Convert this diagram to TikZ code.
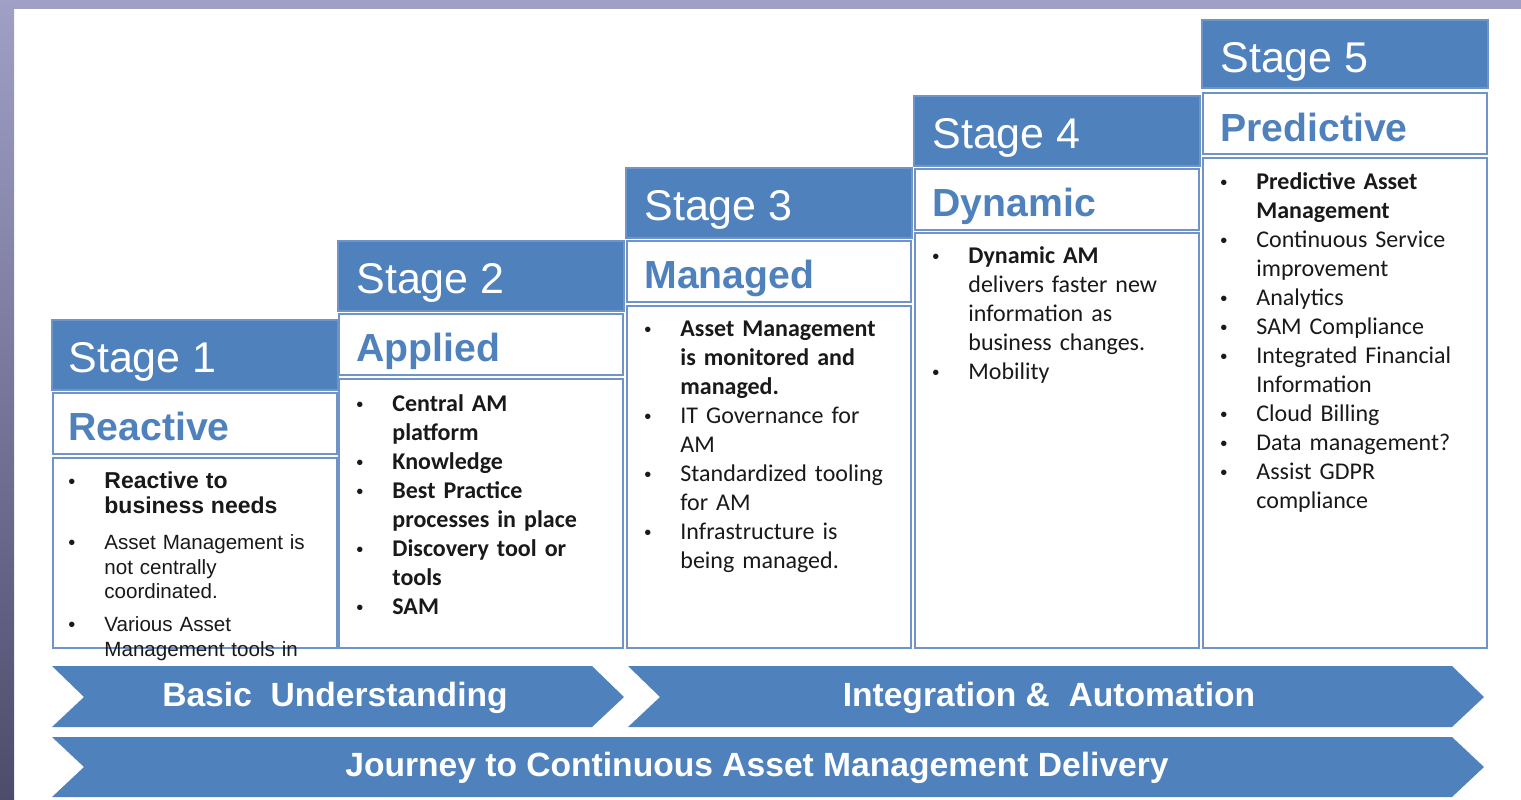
\documentclass[tikz,border=0pt]{standalone}
\usepackage{fontspec}
\setmainfont{Liberation Sans}
\newfontfamily\calfont{Carlito}
\definecolor{amblue}{RGB}{79,129,189}
\definecolor{amline}{RGB}{112,148,200}
\definecolor{amframe}{RGB}{160,159,198}
\definecolor{amframedark}{RGB}{78,76,108}
\definecolor{amtext}{RGB}{25,25,25}
\newcommand\amdot{{\rmfamily\mdseries\fontsize{10}{10}\selectfont\textbullet}}
\newcommand\amitem[1]{\par\hangindent=18pt\hangafter=1\noindent\makebox[18pt][l]{\vrule height 9pt width 0pt\amdot}#1}
\newcommand\amnl{\unskip\break}
\newcommand\amgap[1]{\par\vspace{#1}}

\begin{document}
\begin{tikzpicture}[x=0.5pt,y=0.5pt,yscale=-1,xscale=1,
  hdbox/.style={draw=amline,fill=amblue,line width=0.6pt},
  subbox/.style={draw=amline,fill=white,line width=0.75pt},
  hdtext/.style={anchor=base west,inner sep=0pt,text=white,font=\fontsize{21.5}{24}\selectfont},
  subtext/.style={anchor=base west,inner sep=0pt,text=amblue,font=\fontsize{19.6}{22}\selectfont\bfseries},
  bodytext/.style={anchor=north west,inner sep=0pt,text=amtext,text width=135pt,align=left,font=\fontsize{12}{14.5}\selectfont\calfont},
  chev/.style={fill=amblue},
  chevtext/.style={anchor=base,inner sep=0pt,text=white,font=\fontsize{16.8}{20}\selectfont\bfseries}]
\useasboundingbox (0,0) rectangle (1521,799);

%Shape: Frame
\fill[amframe] (0,0) rectangle (1521,9);
\shade[top color=amframe,bottom color=amframedark] (0,0) rectangle (14,799);

%Shape: Stage 1
\draw[hdbox] (52,320) rectangle (338,390);
\draw[subbox] (53,393) rectangle (337,454);
\draw[subbox] (53,458) rectangle (337,648);
%Shape: Stage 2
\draw[hdbox] (338,241) rectangle (624,311);
\draw[subbox] (339,314) rectangle (623,375);
\draw[subbox] (339,379) rectangle (623,648);
%Shape: Stage 3
\draw[hdbox] (626,168) rectangle (912,238);
\draw[subbox] (627,241) rectangle (911,302);
\draw[subbox] (627,306) rectangle (911,648);
%Shape: Stage 4
\draw[hdbox] (914,96) rectangle (1200,166);
\draw[subbox] (915,169) rectangle (1199,230);
\draw[subbox] (915,233) rectangle (1199,648);
%Shape: Stage 5
\draw[hdbox] (1202,20) rectangle (1488,88);
\draw[subbox] (1203,93) rectangle (1487,154);
\draw[subbox] (1203,158) rectangle (1487,648);

% Text Node
\draw (68,372) node (hd1) [hdtext] {Stage 1};
\draw (356,293) node (hd2) [hdtext] {Stage 2};
\draw (644,220) node (hd3) [hdtext] {Stage 3};
\draw (932,148) node (hd4) [hdtext] {Stage 4};
\draw (1220,72) node (hd5) [hdtext] {Stage 5};
% Text Node
\draw (68,440) node (sub1) [subtext] {Reactive};
\draw (356,361) node (sub2) [subtext] {Applied};
\draw (644,288) node (sub3) [subtext] {Managed};
\draw (932,216) node (sub4) [subtext] {Dynamic};
\draw (1220,141) node (sub5) [subtext] {Predictive};

% Text Node
\draw (68,464) node (body1) [bodytext,font=\fontsize{10.3}{12.25}\selectfont] {%
\amitem{{\bfseries\fontsize{11.5}{12.25}\selectfont Reactive to\amnl business needs}}\amgap{6pt}
\amitem{Asset Management is\amnl not centrally\amnl coordinated.}\amgap{4.25pt}
\amitem{Various Asset\amnl Management tools in}\par};
% Text Node
\draw (356,382) node (body2) [bodytext] {\bfseries
\amitem{Central AM\amnl platform}
\amitem{Knowledge}
\amitem{Best Practice\amnl processes in place}
\amitem{Discovery tool or\amnl tools}
\amitem{SAM}\par};
% Text Node
\draw (644,307) node (body3) [bodytext] {%
\amitem{{\bfseries Asset Management\amnl is monitored and\amnl managed.}}
\amitem{IT Governance for\amnl AM}
\amitem{Standardized tooling\amnl for AM}
\amitem{Infrastructure is\amnl being managed.}\par};
% Text Node
\draw (932,234) node (body4) [bodytext] {%
\amitem{{\bfseries Dynamic AM}\amnl delivers faster new\amnl information as\amnl business changes.}
\amitem{Mobility}\par};
% Text Node
\draw (1220,160) node (body5) [bodytext] {%
\amitem{{\bfseries Predictive Asset\amnl Management}}
\amitem{Continuous Service\amnl improvement}
\amitem{Analytics}
\amitem{SAM Compliance}
\amitem{Integrated Financial\amnl Information}
\amitem{Cloud Billing}
\amitem{Data management?}
\amitem{Assist GDPR\amnl compliance}\par};

%Shape: Chevron
\fill[chev] (52,666) -- (592,666) -- (624,697) -- (592,727) -- (52,727) -- (84,697) -- cycle;
\fill[chev] (628,666) -- (1452,666) -- (1484,697) -- (1452,727) -- (628,727) -- (660,697) -- cycle;
\fill[chev] (52,737) -- (1452,737) -- (1484,767) -- (1452,797) -- (52,797) -- (84,767) -- cycle;

% Text Node
\draw (335,706) node (basic) [chevtext] {Basic\ \ Understanding};
\draw (1049,706) node (integ) [chevtext] {Integration \&\ \ Automation};
\draw (757,776) node (journey) [chevtext] {Journey to Continuous Asset Management Delivery};

\end{tikzpicture}
\end{document}
